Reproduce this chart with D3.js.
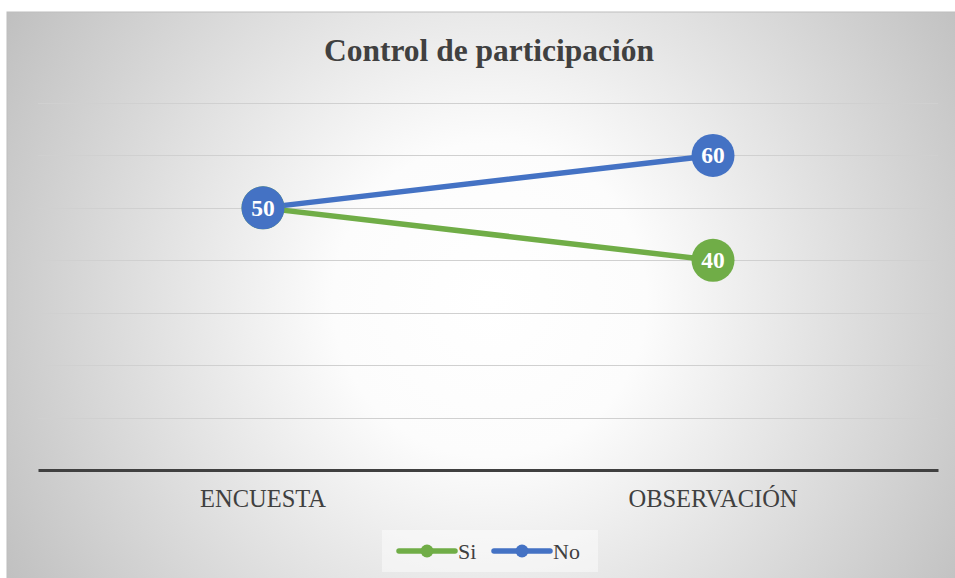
<!DOCTYPE html>
<html>
<head>
<meta charset="utf-8">
<script src="https://cdn.jsdelivr.net/npm/d3@7"></script>
<style>
  html, body { margin: 0; padding: 0; background: #ffffff; }
  svg { display: block; }
  text { font-family: "Liberation Serif", "Times New Roman", serif; }
</style>
</head>
<body>
<svg id="chart" width="955" height="578"></svg>
<script>
// Chart data
const categories = ["ENCUESTA", "OBSERVACIÓN"];
const seriesNames = ["Si", "No"];
const siValues = [50, 40];
const noValues = [50, 60];
const yTicks = [0, 10, 20, 30, 40, 50, 60, 70];
const title = "Control de participación";

const colors = { Si: "#70AD47", No: "#4472C4" };
const series = [
  { name: seriesNames[0], values: siValues, color: colors.Si },
  { name: seriesNames[1], values: noValues, color: colors.No }
];

const W = 955, H = 578;
const frame = { left: 7, top: 12 };
const plot = { left: 38, right: 938, top: 103, bottom: 470 };

const svg = d3.select("#chart");
const defs = svg.append("defs");

// Soft radial background of the chart area
const grad = defs.append("radialGradient")
  .attr("id", "bg")
  .attr("gradientUnits", "userSpaceOnUse")
  .attr("cx", 490).attr("cy", 300).attr("r", 560);
grad.append("stop").attr("offset", 0).attr("stop-color", "#ffffff");
grad.append("stop").attr("offset", 0.28).attr("stop-color", "#fcfcfc");
grad.append("stop").attr("offset", 1).attr("stop-color", "#c0c0c0");

svg.append("rect")
  .attr("x", frame.left).attr("y", frame.top)
  .attr("width", W - frame.left + 2).attr("height", H - frame.top + 2)
  .attr("fill", "url(#bg)")
  .attr("stroke", "#bdbdbd").attr("stroke-width", 1);

const x = d3.scaleBand().domain(categories).range([plot.left, plot.right]);
const y = d3.scaleLinear().domain([0, 70]).range([plot.bottom, plot.top]);
const cx = c => x(c) + x.bandwidth() / 2;

// Horizontal gridlines
svg.append("g").selectAll("line")
  .data(yTicks.filter(t => t > 0))
  .join("line")
  .attr("x1", plot.left).attr("x2", plot.right)
  .attr("y1", d => Math.round(y(d)) + 0.5).attr("y2", d => Math.round(y(d)) + 0.5)
  .attr("stroke", "#d0d0d0").attr("stroke-width", 1.2);

// Category axis
const xAxis = svg.append("g")
  .attr("transform", `translate(0,${y(0)})`)
  .call(d3.axisBottom(x).tickSize(0).tickPadding(20));
xAxis.select(".domain").attr("stroke", "#404040").attr("stroke-width", 3);
xAxis.selectAll("text")
  .attr("fill", "#404040")
  .style("font-size", "24.5px")
  .style("font-family", "'Liberation Serif', 'Times New Roman', serif");

// Title
svg.append("text")
  .attr("x", 489).attr("y", 61)
  .attr("text-anchor", "middle")
  .attr("fill", "#404040")
  .style("font-size", "31.5px").style("font-weight", "bold")
  .text(title);

// Lines
const line = d3.line()
  .x((d, i) => cx(categories[i]))
  .y(d => y(d));

series.forEach(s => {
  svg.append("path")
    .datum(s.values)
    .attr("d", line)
    .attr("fill", "none")
    .attr("stroke", s.color)
    .attr("stroke-width", 5.5)
    .attr("stroke-linecap", "round");
});

// Markers with value labels
series.forEach(s => {
  const g = svg.append("g");
  g.selectAll("circle")
    .data(s.values)
    .join("circle")
    .attr("cx", (d, i) => cx(categories[i]))
    .attr("cy", d => y(d))
    .attr("r", 21.5)
    .attr("fill", s.color);
  g.selectAll("text")
    .data(s.values)
    .join("text")
    .attr("x", (d, i) => cx(categories[i]))
    .attr("y", d => y(d) + 8)
    .attr("text-anchor", "middle")
    .attr("fill", "#ffffff")
    .style("font-size", "23.5px").style("font-weight", "bold")
    .text(d => d);
});

// Legend
const legend = svg.append("g");
legend.append("rect")
  .attr("x", 382).attr("y", 530).attr("width", 216).attr("height", 42)
  .attr("fill", "#ffffff").attr("fill-opacity", 0.45);
const legendItems = [
  { s: series[0], x0: 399 },
  { s: series[1], x0: 494 }
];
legendItems.forEach(({ s, x0 }) => {
  legend.append("line")
    .attr("x1", x0).attr("x2", x0 + 56)
    .attr("y1", 551).attr("y2", 551)
    .attr("stroke", s.color).attr("stroke-width", 5.5)
    .attr("stroke-linecap", "round");
  legend.append("circle")
    .attr("cx", x0 + 28).attr("cy", 551).attr("r", 6.5)
    .attr("fill", s.color);
  legend.append("text")
    .attr("x", x0 + 59).attr("y", 559)
    .attr("fill", "#404040")
    .style("font-size", "22px")
    .text(s.name);
});
</script>
</body>
</html>
